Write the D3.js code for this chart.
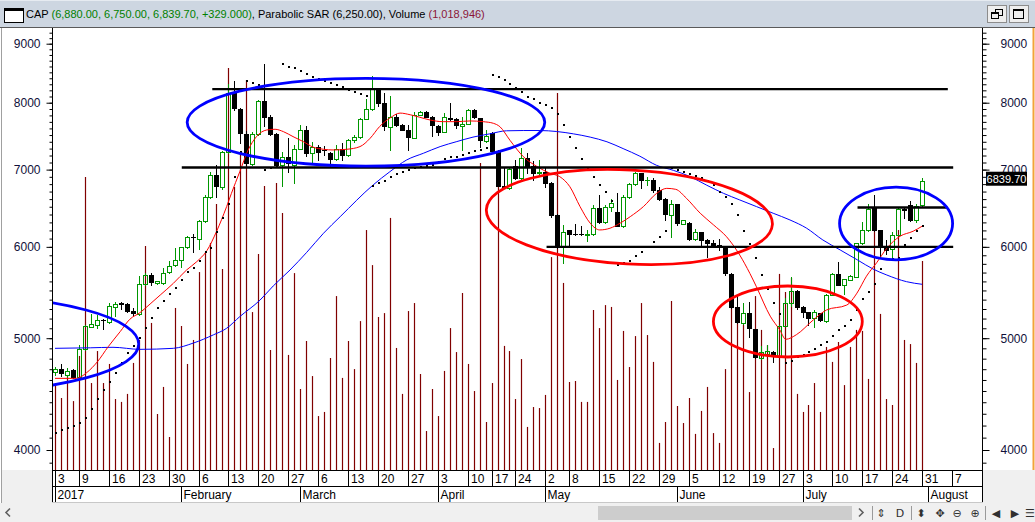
<!DOCTYPE html>
<html>
<head>
<meta charset="utf-8">
<script src="https://cdn.jsdelivr.net/npm/d3@7/dist/d3.min.js"></script>
<style>
  html, body { margin: 0; padding: 0; background: #ffffff; overflow: hidden; }
  svg { display: block; font-family: "Liberation Sans", Arial, sans-serif; }
</style>
</head>
<body>
<svg id="chart" width="1035" height="522"></svg>
<script>
// ---- CAP daily prices, 3 Jan 2017 .. 31 Jul 2017 (one entry per trading day) ----
const opens = [
  4670,4700,4645,4690,4625,4890,5115,5135,5185,5160,
  5325,5360,5355,5280,5245,5570,5675,5580,5585,5705,
  5785,5845,5995,6120,6100,6315,6630,6925,6765,7255,
  8150,7900,7515,7075,7520,8030,7770,7515,7070,7185,
  7070,7290,7570,7230,7330,7285,7240,7145,7290,7205,
  7425,7470,7740,7895,8220,7990,7620,7770,7655,7575,
  7450,7805,7850,7770,7640,7540,7760,7740,7637,7665,
  7885,7755,7415,7530,7270,6770,6745,7050,6880,7160,
  7045,6950,6970,6810,6400,6000,6200,6160,6160,6140,
  6150,6480,6300,6495,6435,6255,6625,6800,6950,6850,
  6850,6720,6600,6400,6535,6280,6290,6090,6175,6085,
  6045,6020,5995,5685,5325,5150,5255,5090,4805,4845,
  4865,4825,5125,5365,5495,5325,5265,5205,5255,5170,
  5450,5680,5560,5620,5655,6045,6200,6480,6200,6000,
  5970,6145,6470,6520,6325,6520
];
const highs = [
  4725,4750,4715,4700,4930,5130,5245,5235,5195,5360,
  5375,5375,5365,5310,5660,5700,5690,5610,5750,5835,
  5985,6000,6130,6155,6330,6650,6960,7070,7270,8300,
  8350,7920,7560,7545,8050,8640,7810,7530,7255,7450,
  7355,7655,7630,7390,7355,7340,7255,7355,7380,7440,
  7500,7760,8055,8440,8225,8150,8105,7820,7660,7655,
  7860,7870,7865,7785,7655,7830,7990,7760,7780,7895,
  7900,7760,7575,7540,7275,7020,7020,7135,7305,7235,
  7115,7130,7020,6830,6410,6270,6200,6285,6260,6200,
  6520,6660,6520,6600,6680,6655,6820,6970,6955,6900,
  6880,6765,6620,6590,6540,6335,6310,6215,6185,6090,
  6080,6090,6000,5690,5440,5365,5375,5095,4925,4930,
  4870,5130,5415,5650,5505,5330,5265,5290,5255,5460,
  5700,5825,5630,5670,6050,6310,6535,6650,6205,6080,
  6185,6500,6490,6570,6530,6880
];
const lows = [
  4650,4635,4630,4615,4615,4880,5110,5100,5090,5150,
  5225,5305,5270,5235,5240,5560,5560,5575,5575,5700,
  5780,5760,5990,5940,5970,6300,6620,6630,6740,7240,
  7880,7380,7060,7070,7500,7630,7505,7045,6775,6970,
  6820,7290,7200,7095,7135,7205,7050,7140,7135,7195,
  7400,7460,7740,7890,7945,7570,7280,7630,7570,7280,
  7450,7800,7775,7485,7505,7540,7730,7605,7280,7660,
  7760,7330,7400,7255,6770,6745,6730,6865,6875,6950,
  6850,6945,6765,6365,5990,5815,6000,6145,6145,6065,
  6145,6290,6295,6440,6250,6245,6615,6790,6745,6790,
  6700,6590,6330,6120,6270,6275,6085,6080,6000,5875,
  6000,5965,5670,5310,5155,5145,5015,4810,4800,4845,
  4770,4820,5120,5330,5305,5215,5135,5115,5170,5165,
  5445,5555,5460,5615,5650,6040,6195,6195,5865,5920,
  5865,6140,6350,6320,6300,6510
];
const closes = [
  4700,4660,4685,4630,4890,5125,5145,5185,5180,5330,
  5355,5355,5280,5255,5570,5670,5590,5600,5700,5780,
  5845,5995,6115,6115,6315,6630,6925,6775,7255,8150,
  7910,7530,7090,7520,8030,7780,7520,7070,7185,7090,
  7290,7570,7240,7330,7255,7280,7145,7290,7205,7425,
  7475,7740,7895,8220,8000,7630,7770,7655,7575,7465,
  7805,7860,7780,7655,7550,7770,7750,7655,7668,7885,
  7770,7425,7485,7270,6775,6765,7005,6880,7160,7045,
  6955,6970,6820,6400,6000,6185,6155,6155,6155,6150,
  6480,6300,6500,6555,6255,6625,6800,6950,6855,6860,
  6720,6600,6410,6535,6290,6325,6090,6175,6085,6045,
  6010,5995,5690,5325,5160,5255,5100,4815,4860,4870,
  4825,5125,5365,5495,5325,5270,5210,5265,5180,5450,
  5680,5565,5625,5660,6045,6200,6470,6200,6000,5965,
  6145,6470,6460,6325,6510.7,6839.7
];
// volume, thousands of shares
const volumes = [
  414,351,463,336,556,1428,424,580,424,517,
  346,332,371,522,634,1092,717,273,405,161,
  790,702,517,634,965,1063,1107,1297,980,1960,
  1380,1545,1901,770,1053,1385,585,1399,1253,561,
  960,395,629,458,263,283,546,848,449,629,
  492,726,1170,999,746,765,1229,595,371,775,
  814,468,190,395,263,483,692,575,863,517,
  385,1497,234,424,1448,605,580,346,541,210,
  307,302,366,1038,1838,912,429,434,332,332,
  780,692,804,795,439,678,502,653,814,658,
  527,132,234,824,312,229,351,176,288,405,
  180,132,492,829,795,707,380,848,683,609,
  107,956,868,936,371,283,317,424,283,600,
  527,624,414,600,683,678,444,1194,761,346,
  317,1170,634,614,522,1018.946
];
// Parabolic SAR, one value per trading day
const sar = [
  4140,4163,4182,4199,4224,4266,4339,4431,4509,4584,
  4668,4758,4852,4925,4999,5100,5203,5307,5388,5461,
  5530,5616,5710,5748,5837,5943,5990,6185,6356,6537,
  6898,7251,8347,8314,8280,6995,7019,7045,8640,8596,
  8566,8522,8470,8420,8380,8350,8322,8280,8247,8210,
  8173,8140,8112,6775,6811,6847,6894,6935,6971,6995,
  7019,7038,7052,7066,7113,7148,7177,7185,7210,7235,
  7259,7280,7302,8456,8427,8372,8305,8239,8165,8097,
  8052,8001,7965,7912,7820,7655,7477,7305,7148,7016,
  6898,6789,6688,6580,5787,5807,5837,5892,5943,6000,
  6063,6124,6194,7019,6995,6971,6939,6912,6878,6837,
  6789,6700,6634,6537,6396,6196,6035,5868,5672,5513,
  5364,5247,4761,4780,4816,4835,4865,4891,4928,4967,
  5022,5083,5119,5181,5289,5403,5483,5570,5737,5857,
  5857,5865,6022,6104,6194,6250
];
// moving averages: [trading-day position, value]
const maFastIdx = [0,3.6,5.3,7.1,8.9,10.9,12.5,14.2,15.9,17.6,19.8,22,23.7,25.4,27,28.7,29.5,30.9,32.3,33.7,
  35.4,36.8,38.2,39.8,41.5,43.2,44.9,46.5,48.8,51,52.7,54.3,56,57.7,59.4,61,62.7,64.9,67.2,69.4,
  71.6,73.3,74.4,76.1,78.3,80.6,82.8,84.4,86.1,87.8,89.5,91.1,92.8,94.5,96.2,98.4,100.6,102.3,103.8,105.6,
  107.9,110.1,112.3,114.5,116.2,117.3,119.6,121.2,122.2,124,126.8,129,132.4,134.1,135.7,137.4,139.1,141.3,143.5,145];
const maFastVal = [4615,4615,4668,4771,4916,5066,5192,5261,5353,5450,5579,5729,5825,5955,6185,6502,6676,6971,7280,7477,
  7576,7587,7551,7477,7403,7320,7290,7280,7290,7329,7452,7630,7758,7836,7810,7771,7729,7703,7703,7714,
  7703,7678,7626,7420,7185,7043,6948,6903,6765,6502,6290,6206,6227,6290,6373,6502,6676,6743,6730,6610,
  6416,6270,6122,5903,5690,5540,5225,5083,4989,5036,5185,5289,5342,5470,5659,5813,5983,6128,6190,6252];
const maSlowIdx = [0,5.9,9.7,14.2,19.8,23.1,26.5,28.7,30.9,34.3,36.5,39.3,42.1,44.9,47.7,53.2,56,58.8,61.6,64.4,
  67.2,69.9,72.7,75.5,78.3,81.1,83.9,86.7,89.5,92.3,95,97.8,100.6,103.4,106.2,109,111.8,114.5,117.3,120.1,
  122.9,125.7,128.4,131.3,134.2,136.8,139.1,142.4,145];
const maSlowVal = [4900,4905,4910,4890,4900,4951,5034,5100,5220,5396,5550,5729,5935,6165,6373,6789,6971,7136,7232,7329,
  7403,7469,7518,7564,7568,7568,7553,7518,7469,7400,7300,7190,7060,6990,6903,6785,6676,6589,6502,6416,
  6331,6227,6083,5963,5845,5740,5672,5597,5568];

// support / resistance levels and the trading-day span they cover
const levelPrice = [8220, 7030, 6000, 6490];
const levelFrom  = [26.3, 21.2, 82.2, 134.2];
const levelTo    = [149.3, 150.2, 150.2, 149.2];

// highlighted zones: trading-day span and price span
const zoneFrom   = [-46.2, 22.1, 72.1, 110.1, 131.2];
const zoneTo     = [14.0, 81.9, 120.0, 135.0, 150.1];
const zoneHigh   = [5440, 8399, 6995, 5549, 6759];
const zoneLow    = [4491, 7048, 5798, 4816, 5847];

// calendar axis
const weekLabels = ["3","9","16","23","30","6","13","20","27","6","13","20","27","3","10","17","24",
  "2","8","15","22","29","5","12","19","27","3","10","17","24","31","7"];
const weekPos = [0,4,9,14,19,24,29,34,39,44,49,54,59,64,69,73,77,82,86,91,96,101,106,111,116,121,125,130,135,140,145,150];
const monthLabels = ["2017","February","March","April","May","June","July","August"];
const monthPos = [0,21,41,64,82,104,125,146];
const priceTicks = [4000,5000,6000,7000,8000,9000];

// header figures
const symbol = "CAP";
const quoteText = "(6,880.00, 6,750.00, 6,839.70, +329.000)";
const sarText = "(6,250.00)";
const volText = "(1,018,946)";

// ---------------------------------------------------------------------------
const W = 1035, H = 522;
const L = 52, R = 982, T = 28, B = 470;
const svg = d3.select("#chart");

const x = d3.scaleLinear().domain([0, 150]).range([55, 952]);
const y = d3.scaleLog().domain([4000, 9000]).range([450, 43.7]);
const yVol = d3.scaleLinear().domain([0, 2155]).range([B, T]);
const px = i => Math.round(x(i));
const py = v => Math.round(y(v));

svg.append("rect").attr("width", W).attr("height", H).attr("fill", "#ffffff");

// ---- header bar ----
svg.append("rect").attr("x", 0).attr("y", 0).attr("width", W).attr("height", 27).attr("fill", "#cdd6e1");
svg.append("line").attr("x1", 0).attr("x2", W).attr("y1", 0.5).attr("y2", 0.5).attr("stroke", "#e6ebf1");
svg.append("line").attr("x1", 0).attr("x2", W).attr("y1", 27.5).attr("y2", 27.5).attr("stroke", "#5a5a5a");
// window icon
svg.append("rect").attr("x", 4.5).attr("y", 8.5).attr("width", 19).attr("height", 14)
  .attr("fill", "#ffffff").attr("stroke", "#000");
svg.append("line").attr("x1", 4.5).attr("x2", 23.5).attr("y1", 10).attr("y2", 10).attr("stroke", "#000").attr("stroke-width", 2);

const hdr = svg.append("text").attr("x", 26).attr("y", 18).attr("font-size", "11px");
hdr.append("tspan").attr("fill", "#000").text(symbol + " ");
hdr.append("tspan").attr("fill", "#008000").text(quoteText);
hdr.append("tspan").attr("fill", "#000").text(", Parabolic SAR " + sarText + ", Volume ");
hdr.append("tspan").attr("fill", "#8b1538").text(volText);

// window buttons
[987, 1009].forEach((bx, k) => {
  svg.append("rect").attr("x", bx + 0.5).attr("y", 5.5).attr("width", 19).attr("height", 17)
    .attr("fill", "#eeeeee").attr("stroke", "#8c8c8c");
  if (k === 0) {
    svg.append("rect").attr("x", bx + 8.5).attr("y", 9.5).attr("width", 7).attr("height", 6).attr("fill", "none").attr("stroke", "#000");
    svg.append("rect").attr("x", bx + 4.5).attr("y", 12.5).attr("width", 7).attr("height", 6).attr("fill", "#eeeeee").attr("stroke", "#000");
    svg.append("line").attr("x1", bx + 4.5).attr("x2", bx + 11.5).attr("y1", 13.5).attr("y2", 13.5).attr("stroke", "#000");
  } else {
    svg.append("rect").attr("x", bx + 4.5).attr("y", 9.5).attr("width", 10).attr("height", 9).attr("fill", "none").attr("stroke", "#000");
    svg.append("line").attr("x1", bx + 4.5).attr("x2", bx + 14.5).attr("y1", 10.5).attr("y2", 10.5).attr("stroke", "#000");
  }
});

// ---- side panels, frame ----
svg.append("line").attr("x1", 1.5).attr("x2", 1.5).attr("y1", T).attr("y2", 503).attr("stroke", "#a0a0a0");
svg.append("line").attr("x1", 1033.5).attr("x2", 1033.5).attr("y1", T).attr("y2", B).attr("stroke", "#f2a33a").attr("stroke-width", 2);

// ---- plot content, clipped ----
svg.append("defs").append("clipPath").attr("id", "plotClip")
  .append("rect").attr("x", L + 1).attr("y", T + 1).attr("width", R - L - 1).attr("height", B - T - 1);
const g = svg.append("g").attr("clip-path", "url(#plotClip)");
const days = d3.range(closes.length);

// volume
g.append("g").selectAll("line").data(days).join("line")
  .attr("x1", i => px(i) + 0.5).attr("x2", i => px(i) + 0.5)
  .attr("y1", i => yVol(volumes[i])).attr("y2", B)
  .attr("stroke", "#800000").attr("stroke-width", 1.2);

// candles
const cg = g.append("g").selectAll("g").data(days).join("g");
cg.each(function (i) {
  const sel = d3.select(this);
  const c = px(i);
  const o = opens[i], cl = closes[i];
  const up = cl >= o;
  const col = up ? "#009600" : "#000000";
  const top = py(Math.max(o, cl));
  const bot = py(Math.min(o, cl));
  const hi = py(highs[i]), lo = py(lows[i]);
  if (hi < top) sel.append("line").attr("x1", c + 0.5).attr("x2", c + 0.5).attr("y1", hi).attr("y2", top).attr("stroke", col);
  if (lo > bot) sel.append("line").attr("x1", c + 0.5).attr("x2", c + 0.5).attr("y1", bot + 1).attr("y2", lo + 1).attr("stroke", col);
  if (bot - top < 1) {
    sel.append("line").attr("x1", c - 2).attr("x2", c + 3).attr("y1", top + 0.5).attr("y2", top + 0.5).attr("stroke", col);
  } else if (up) {
    sel.append("rect").attr("x", c - 1.5).attr("y", top + 0.5).attr("width", 4).attr("height", bot - top)
      .attr("fill", "none").attr("stroke", col);
  } else {
    sel.append("rect").attr("x", c - 2).attr("y", top).attr("width", 5).attr("height", bot - top + 1).attr("fill", "#000");
  }
});

// moving averages
const maLine = d3.line().x(d => x(d[0])).y(d => y(d[1])).curve(d3.curveMonotoneX);
g.append("path").datum(d3.zip(maSlowIdx, maSlowVal)).attr("d", maLine)
  .attr("fill", "none").attr("stroke", "#0000ff").attr("stroke-width", 1);
g.append("path").datum(d3.zip(maFastIdx, maFastVal)).attr("d", maLine)
  .attr("fill", "none").attr("stroke", "#ff0000").attr("stroke-width", 1);

// parabolic SAR
g.append("g").selectAll("rect").data(days).join("rect")
  .attr("x", i => px(i)).attr("y", i => py(sar[i]) - 1)
  .attr("width", 2).attr("height", 2).attr("fill", "#000");

// support / resistance levels
g.append("g").selectAll("line").data(levelPrice).join("line")
  .attr("x1", (d, k) => x(levelFrom[k])).attr("x2", (d, k) => x(levelTo[k]))
  .attr("y1", d => y(d)).attr("y2", d => y(d))
  .attr("stroke", "#000").attr("stroke-width", 2.4);

// highlighted zones
const zoneColor = ["#0000ff", "#0000ff", "#ff0000", "#ff0000", "#0000ff"];
const zoneTilt = [0, 0, 3, 0, 0];
g.append("g").selectAll("ellipse").data(zoneFrom).join("ellipse")
  .each(function (d, k) {
    const x0 = x(zoneFrom[k]), x1 = x(zoneTo[k]);
    const y0 = y(zoneHigh[k]), y1 = y(zoneLow[k]);
    const cx = (x0 + x1) / 2, cy = (y0 + y1) / 2;
    d3.select(this).attr("cx", cx).attr("cy", cy)
      .attr("rx", (x1 - x0) / 2).attr("ry", (y1 - y0) / 2)
      .attr("transform", `rotate(${zoneTilt[k]},${cx},${cy})`)
      .attr("fill", "none").attr("stroke", zoneColor[k]).attr("stroke-width", 2.8);
  });

// ---- price axes ----
const minorTicks = d3.range(3900, 9201, 100);
const axisColor = "#10103a";
function styleAxis(sel) {
  sel.select(".domain").remove();
  sel.selectAll("line").attr("stroke", "#000");
  sel.selectAll("text").attr("fill", axisColor).attr("font-size", "12px")
    .attr("font-family", "'Liberation Sans', Arial, sans-serif");
}
svg.append("g").attr("transform", `translate(${L + 0.5},0)`)
  .call(d3.axisLeft(y).tickValues(minorTicks).tickSize(3).tickFormat("")).call(styleAxis);
svg.append("g").attr("transform", `translate(${L + 0.5},0)`)
  .call(d3.axisLeft(y).tickValues(priceTicks).tickSize(6).tickPadding(6).tickFormat(d3.format("d"))).call(styleAxis);
svg.append("g").attr("transform", `translate(${R + 0.5},0)`)
  .call(d3.axisRight(y).tickValues(minorTicks).tickSize(4).tickFormat("")).call(styleAxis);
svg.append("g").attr("transform", `translate(${R + 0.5},0)`)
  .call(d3.axisRight(y).tickValues(priceTicks).tickSize(7).tickPadding(11).tickFormat(d3.format("d"))).call(styleAxis);
svg.append("line").attr("x1", L + 0.5).attr("x2", L + 0.5).attr("y1", T).attr("y2", 503).attr("stroke", "#000");
svg.append("line").attr("x1", R + 0.5).attr("x2", R + 0.5).attr("y1", T).attr("y2", 503).attr("stroke", "#000");

// last price tag
const lastClose = closes[closes.length - 1];
const lc = y(lastClose);
svg.append("rect").attr("x", 986).attr("y", lc - 9.5).attr("width", 41).attr("height", 14).attr("fill", "#000");
svg.append("text").attr("x", 1006.5).attr("y", lc + 1.5).attr("text-anchor", "middle")
  .attr("font-size", "11px").attr("fill", "#fff").text(d3.format(".2f")(lastClose));

// ---- calendar axis ----
svg.append("rect").attr("x", 2).attr("y", B).attr("width", L - 2).attr("height", 33).attr("fill", "#f0f0f0");
svg.append("rect").attr("x", R + 1).attr("y", B).attr("width", W - R - 1).attr("height", 33).attr("fill", "#f0f0f0");
svg.append("line").attr("x1", L).attr("x2", R + 1).attr("y1", B + 0.5).attr("y2", B + 0.5).attr("stroke", "#000");
svg.append("line").attr("x1", L).attr("x2", R + 1).attr("y1", 486.5).attr("y2", 486.5).attr("stroke", "#000");
svg.append("line").attr("x1", L).attr("x2", R + 1).attr("y1", 502.5).attr("y2", 502.5).attr("stroke", "#c8c8c8");

const wk = svg.append("g").selectAll("g").data(weekPos).join("g");
wk.append("line").attr("x1", d => px(d) + 0.5).attr("x2", d => px(d) + 0.5)
  .attr("y1", B).attr("y2", 486).attr("stroke", "#000");
wk.append("text").attr("x", d => px(d) + 3).attr("y", 482.5).attr("font-size", "12px").attr("fill", "#000")
  .text((d, k) => weekLabels[k]);

const mo = svg.append("g").selectAll("g").data(monthPos).join("g");
mo.append("line").attr("x1", d => px(d) + 0.5).attr("x2", d => px(d) + 0.5)
  .attr("y1", 486).attr("y2", 502).attr("stroke", "#000");
mo.append("text").attr("x", d => px(d) + 2.5).attr("y", 499).attr("font-size", "12px").attr("fill", "#000")
  .text((d, k) => monthLabels[k]);

// ---- scroll bar and toolbar ----
svg.append("rect").attr("x", 0).attr("y", 503).attr("width", W).attr("height", 19).attr("fill", "#f0f0f0");
svg.append("path").attr("d", "M10,508.5 L6,512.5 L10,516.5").attr("fill", "none").attr("stroke", "#606060").attr("stroke-width", 1.6);
svg.append("rect").attr("x", 598).attr("y", 506).attr("width", 254).attr("height", 14).attr("fill", "#cdcdcd");
svg.append("path").attr("d", "M859,508.5 L863,512.5 L859,516.5").attr("fill", "none").attr("stroke", "#606060").attr("stroke-width", 1.6);
[872, 911, 985].forEach(sx => svg.append("line").attr("x1", sx + 0.5).attr("x2", sx + 0.5)
  .attr("y1", 506).attr("y2", 520).attr("stroke", "#9a9a9a"));
const tools = [["\u21D5", 881], ["D", 900], ["\u2B0D", 921], ["\u2725", 940], ["\u2296", 957], ["\u2295", 975],
  ["\u25C0", 996], ["\u25B6", 1015], ["\u2630", 1030]];
svg.append("g").selectAll("text").data(tools).join("text")
  .attr("x", d => d[1]).attr("y", 517).attr("text-anchor", "middle")
  .attr("font-family", "'DejaVu Sans', sans-serif").attr("font-size", "11px").attr("fill", "#303030")
  .text(d => d[0]);
</script>
</body>
</html>
